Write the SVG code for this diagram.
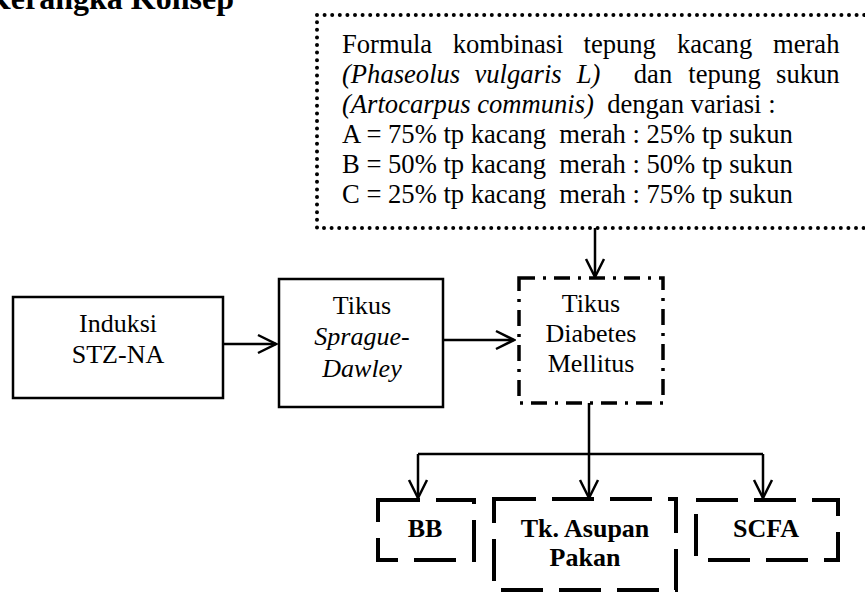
<svg xmlns="http://www.w3.org/2000/svg" width="865" height="592" viewBox="0 0 865 592">
<defs>
<style>
text{font-family:"Liberation Serif","Times New Roman",serif;font-size:26px;fill:#000;white-space:pre}
.f{font-size:26.6px}
.c{text-anchor:middle}
.i{font-style:italic}
.b{font-weight:bold}
.solid{fill:none;stroke:#000;stroke-width:2.5}
.dotted{fill:none;stroke:#000;stroke-width:4;stroke-linecap:round;stroke-dasharray:0 7.6}
.dashdot{fill:none;stroke:#000;stroke-width:3.5;stroke-dasharray:16 8 3 8}
.dashed{fill:none;stroke:#000;stroke-width:4;stroke-dasharray:42 16}
.con{fill:none;stroke:#000;stroke-width:2.5}
</style>
<marker id="ar" viewBox="0 0 22 22" refX="20" refY="11" markerWidth="22" markerHeight="22" markerUnits="userSpaceOnUse" orient="auto">
<path d="M2,2 L20,11 L2,20" fill="none" stroke="#000" stroke-width="2.5"/>
</marker>
</defs>
<rect width="865" height="592" fill="#fff"/>
<text class="b" x="234" y="9" text-anchor="end" style="font-size:32px">Kerangka Konsep</text>

<g id="formula">
<rect class="dotted" x="317" y="15" width="600" height="213"/>
<text class="f" y="53"><tspan x="342">Formula</tspan><tspan x="452.7">kombinasi</tspan><tspan x="583.5">tepung</tspan><tspan x="676.9">kacang</tspan><tspan x="773">merah</tspan></text>
<text class="f" y="83"><tspan class="i" x="342">(Phaseolus</tspan><tspan class="i" x="474.5">vulgaris</tspan><tspan class="i" x="576.7">L)</tspan><tspan x="633.8">dan</tspan><tspan x="688.3">tepung</tspan><tspan x="776.1">sukun</tspan></text>
<text class="f" x="342" y="113"><tspan class="i">(Artocarpus communis)</tspan>  dengan variasi :</text>
<text class="f" x="342" y="143">A = 75% tp kacang  merah : 25% tp sukun</text>
<text class="f" x="342" y="173">B = 50% tp kacang  merah : 50% tp sukun</text>
<text class="f" x="342" y="203">C = 25% tp kacang  merah : 75% tp sukun</text>
</g>

<g id="induksi">
<rect class="solid" x="13" y="297" width="210" height="101"/>
<text class="c" x="118" y="332">Induksi</text>
<text class="c" x="118" y="363">STZ-NA</text>
</g>

<g id="sprague">
<rect class="solid" x="279" y="279" width="164" height="128"/>
<text class="c" x="362" y="314">Tikus</text>
<text class="c i" x="362" y="345">Sprague-</text>
<text class="c i" x="362" y="377">Dawley</text>
</g>

<g id="dm">
<rect class="dashdot" x="519" y="278" width="144" height="125"/>
<text class="c" x="591" y="312">Tikus</text>
<text class="c" x="591" y="342">Diabetes</text>
<text class="c" x="591" y="372">Mellitus</text>
</g>

<g id="bb">
<rect class="dashed" x="378" y="500" width="96" height="60"/>
<text class="c b" x="425" y="537">BB</text>
</g>

<g id="asupan">
<rect class="dashed" x="494" y="499" width="182" height="91"/>
<text class="c b" x="585" y="537">Tk. Asupan</text>
<text class="c b" x="585" y="566">Pakan</text>
</g>

<g id="scfa">
<rect class="dashed" x="696" y="500" width="142" height="60"/>
<text class="c b" x="766" y="537">SCFA</text>
</g>

<g id="connectors">
<path class="con" d="M223,344 H276" marker-end="url(#ar)"/>
<path class="con" d="M443,340 H514" marker-end="url(#ar)"/>
<path class="con" d="M595,228 V277" marker-end="url(#ar)"/>
<path class="con" d="M589,403 V454 M418,454 H763"/>
<path class="con" d="M418,454 V498" marker-end="url(#ar)"/>
<path class="con" d="M589,454 V498" marker-end="url(#ar)"/>
<path class="con" d="M763,454 V498" marker-end="url(#ar)"/>
</g>
</svg>
